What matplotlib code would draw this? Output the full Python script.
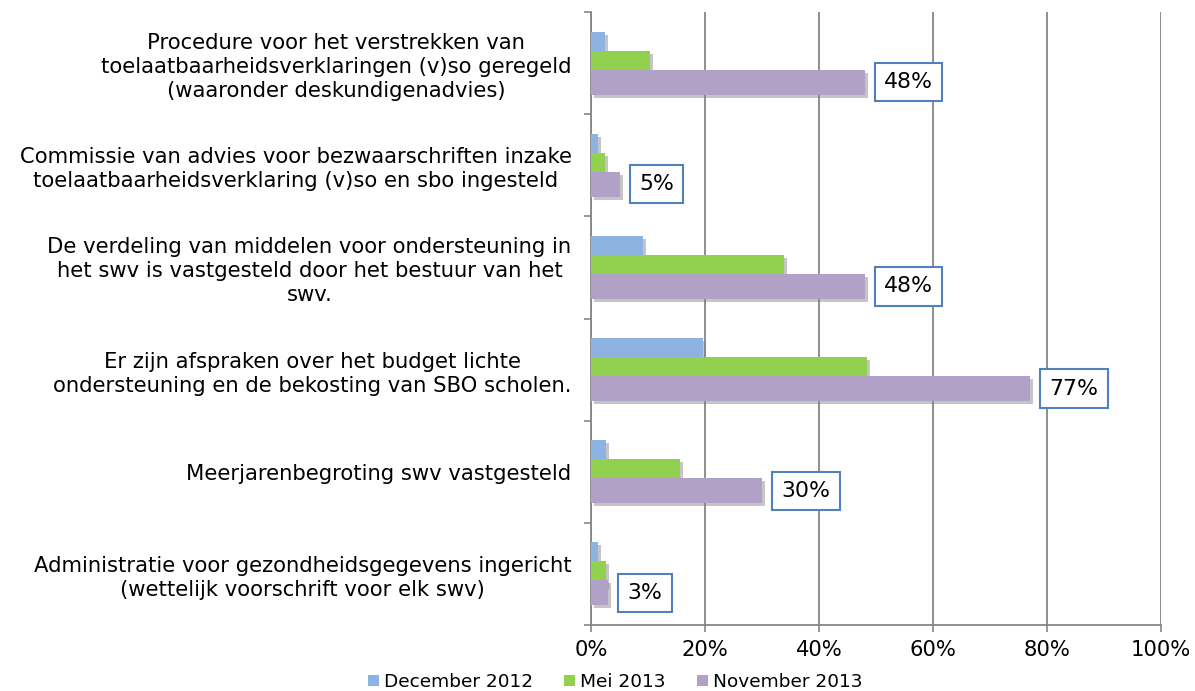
import matplotlib
matplotlib.use("Agg")
import matplotlib.pyplot as plt
import matplotlib.patheffects as pe
from matplotlib.patches import Patch
import numpy as np

categories = [
    "Procedure voor het verstrekken van\ntoelaatbaarheidsverklaringen (v)so geregeld\n(waaronder deskundigenadvies)",
    "Commissie van advies voor bezwaarschriften inzake\ntoelaatbaarheidsverklaring (v)so en sbo ingesteld",
    "De verdeling van middelen voor ondersteuning in\nhet swv is vastgesteld door het bestuur van het\nswv.",
    "Er zijn afspraken over het budget lichte\nondersteuning en de bekosting van SBO scholen.",
    "Meerjarenbegroting swv vastgesteld",
    "Administratie voor gezondheidsgegevens ingericht\n(wettelijk voorschrift voor elk swv)",
]
series_names = ["December 2012", "Mei 2013", "November 2013"]
dec_2012 = [2.5, 1.2, 9.2, 19.6, 2.6, 1.2]
mei_2013 = [10.4, 2.5, 33.9, 48.4, 15.6, 2.6]
nov_2013 = [48, 5, 48, 77, 30, 3]
nov_labels = ["48%", "5%", "48%", "77%", "30%", "3%"]
x_ticks = [0, 20, 40, 60, 80, 100]

colors = ["#8DB3E2", "#92D050", "#B2A1C7"]

plt.rcParams["font.family"] = ["DejaVu Sans"]
FS = 15.2

fig = plt.figure(figsize=(11.95, 6.91), dpi=100)
ax = fig.add_axes([591/1195, 66/691, 570/1195, 613/691])

y = np.arange(len(categories))
offset = 0.186
height = 0.245
shadow = [pe.SimplePatchShadow(offset=(2.2, -2.2), shadow_rgbFace="#808080", alpha=0.45), pe.Normal()]
for i, (vals, col) in enumerate(zip([dec_2012, mei_2013, nov_2013], colors)):
    bars = ax.barh(y + (i - 1) * offset, vals, height=height, color=col,
                   zorder=3 + i)
    for b in bars:
        b.set_path_effects(shadow)

for yi, v, lab in zip(y, nov_2013, nov_labels):
    ax.annotate(lab, xy=(v, yi + offset), xytext=(14, 0), textcoords="offset points",
                ha="left", va="center", fontsize=15.8, zorder=10,
                bbox=dict(boxstyle="square,pad=0.42", fc="white", ec="#4F81BD", lw=1.5))

ax.set_xlim(0, 100)
ax.set_ylim(len(categories) - 0.5, -0.5)
ax.set_xticks(x_ticks)
ax.set_xticklabels([f"{t}%" for t in x_ticks], fontsize=FS)
ax.set_yticks(y)
ax.set_yticklabels(categories, fontsize=FS, multialignment="center", linespacing=1.25)
ax.set_yticks(np.arange(len(categories) + 1) - 0.5, minor=True)
ax.tick_params(axis="y", which="major", length=0, pad=14)
ax.tick_params(axis="y", which="minor", length=5, color="#868686", width=1.2)
ax.tick_params(axis="x", length=5, color="#868686", width=1.2, pad=6)
ax.grid(axis="x", color="#868686", lw=1.3, zorder=0)
ax.set_axisbelow(True)
for s in ["top", "right"]:
    ax.spines[s].set_visible(False)
for s in ["left", "bottom"]:
    ax.spines[s].set_color("#868686")
    ax.spines[s].set_linewidth(1.3)

handles = [Patch(facecolor=c, edgecolor="none") for c in colors]
fig.legend(handles, series_names, loc="lower center", bbox_to_anchor=(615/1195, -0.024), ncol=3,
           frameon=False, fontsize=13.3, handlelength=0.6, handleheight=0.6, handletextpad=0.25,
           columnspacing=1.7)

fig.savefig("out.png", dpi=100)
